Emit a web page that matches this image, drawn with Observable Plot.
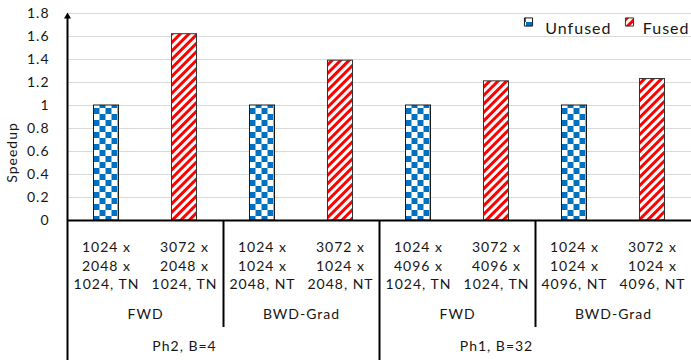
<!DOCTYPE html>
<html>
<head>
<meta charset="utf-8">
<script src="https://cdn.jsdelivr.net/npm/d3@7"></script>
<script src="https://cdn.jsdelivr.net/npm/@observablehq/plot@0.6"></script>
<style>
  html, body { margin: 0; padding: 0; background: #fff; }
  #chart svg { display: block; }
</style>
</head>
<body>
<div id="chart"></div>
<script>
// ---- data ----
const categories = [
  "1024 x\n2048 x\n1024, TN", "3072 x\n2048 x\n1024, TN",
  "1024 x\n1024 x\n2048, NT", "3072 x\n1024 x\n2048, NT",
  "1024 x\n4096 x\n1024, TN", "3072 x\n4096 x\n1024, TN",
  "1024 x\n1024 x\n4096, NT", "3072 x\n1024 x\n4096, NT"
];
const unfused = [1, null, 1, null, 1, null, 1, null];
const fused = [null, 1.62, null, 1.39, null, 1.21, null, 1.23];
const operations = ["FWD", "BWD-Grad", "FWD", "BWD-Grad"];
const phases = ["Ph2, B=4", "Ph1, B=32"];
const seriesNames = ["Unfused", "Fused"];
const yTicks = [0, 0.2, 0.4, 0.6, 0.8, 1, 1.2, 1.4, 1.6, 1.8];
const yTickLabels = ["0", "0.2", "0.4", "0.6", "0.8", "1", "1.2", "1.4", "1.6", "1.8"];
const yLabel = "Speedup";

// ---- layout ----
const W = 691, H = 360, ML = 67, MT = 13, MB = 140;
const bw = (W - ML) / categories.length;
const barW = 25;
const inset = (bw - barW) / 2;
const font = "Lato, 'Open Sans', sans-serif";
const ink = "#161616";

const rowsU = categories.map((c, i) => ({cat: c, v: unfused[i]})).filter(d => d.v != null);
const rowsF = categories.map((c, i) => ({cat: c, v: fused[i]})).filter(d => d.v != null);
const opGroups = operations.map((o, i) => ({label: o, first: categories[i * 2]}));
const phaseGroups = phases.map((p, i) => ({label: p, first: categories[i * 4]}));
const phaseFirsts = phaseGroups.map(d => d.first);
const opBounds = opGroups.filter((d, i) => i > 0 && !phaseFirsts.includes(d.first)).map(d => d.first);
const phaseBounds = phaseGroups.slice(1).map(d => d.first);

const chart = Plot.plot({
  width: W, height: H,
  marginLeft: ML, marginRight: 0, marginTop: MT, marginBottom: MB,
  style: {fontFamily: font, background: "#fff", overflow: "visible", letterSpacing: "1px"},
  x: {domain: categories, padding: 0, round: false, axis: null},
  y: {domain: [0, 1.8], axis: null},
  marks: [
    Plot.gridY(yTicks, {stroke: "#d9d9d9", strokeOpacity: 1, strokeWidth: 1}),
    Plot.axisY(yTicks, {
      tickSize: 0, tickPadding: 18, fontSize: 14, color: ink, label: null,
      tickFormat: d => yTickLabels[yTicks.indexOf(d)]
    }),
    Plot.barY(rowsU, {x: "cat", y: "v", fill: "url(#pat-checker)", stroke: "#1a1a1a", strokeWidth: 1, insetLeft: inset, insetRight: inset}),
    Plot.barY(rowsF, {x: "cat", y: "v", fill: "url(#pat-stripes)", stroke: "#333", strokeWidth: 1, insetLeft: inset, insetRight: inset}),
    Plot.ruleY([0], {stroke: "#000", strokeWidth: 2}),
    // y axis line with arrow
    Plot.ruleX([categories[0]], {x: d => d, dx: -bw / 2, stroke: "#000", strokeWidth: 2, insetTop: 3, insetBottom: -MB}),
    Plot.dot([categories[0]], {x: d => d, frameAnchor: "top", dx: -bw / 2, dy: 3, symbol: "triangle", r: 2.6, fill: "#000", stroke: "none"}),
    // group separators
    Plot.ruleX(opBounds, {x: d => d, dx: -bw / 2, stroke: "#000", strokeWidth: 2, insetTop: H - MT - MB, insetBottom: -107}),
    Plot.ruleX(phaseBounds, {x: d => d, dx: -bw / 2, stroke: "#000", strokeWidth: 2, insetTop: H - MT - MB, insetBottom: -MB}),
    // category labels
    Plot.text(categories, {x: d => d, text: d => d, frameAnchor: "bottom", lineAnchor: "top", dy: 19, lineHeight: 1.3, fontSize: 14, fill: ink}),
    Plot.text(opGroups, {x: "first", text: "label", dx: bw / 2, frameAnchor: "bottom", dy: 98, fontSize: 14, fill: ink}),
    Plot.text(phaseGroups, {x: "first", text: "label", dx: bw, frameAnchor: "bottom", dy: 130, fontSize: 14, fill: ink}),
    // y label
    Plot.text([yLabel], {frameAnchor: "left", textAnchor: "middle", lineAnchor: "middle", rotate: -90, dx: -55, dy: 35.5, fontSize: 14, fill: ink}),
    // legend
    Plot.dot([seriesNames[0]], {frameAnchor: "top-right", dx: -163, dy: 8.5, symbol: "square", r: 4.6, fill: "url(#pat-checker)", stroke: "#1a1a1a", strokeWidth: 1}),
    Plot.text([seriesNames[0]], {frameAnchor: "top-right", textAnchor: "end", dx: -80, dy: 9, fontSize: 16, fill: ink}),
    Plot.dot([seriesNames[1]], {frameAnchor: "top-right", dx: -62, dy: 8.5, symbol: "square", r: 4.6, fill: "url(#pat-stripes)", stroke: "#333", strokeWidth: 1}),
    Plot.text([seriesNames[1]], {frameAnchor: "top-right", textAnchor: "end", dx: -2, dy: 9, fontSize: 16, fill: ink})
  ]
});

// patterns
const defs = d3.select(chart).insert("defs", ":first-child");
const ck = defs.append("pattern").attr("id", "pat-checker").attr("patternUnits", "userSpaceOnUse")
  .attr("width", 12).attr("height", 12).attr("x", ML + inset).attr("y", 0);
ck.append("rect").attr("width", 12).attr("height", 12).attr("fill", "#fff");
ck.append("rect").attr("width", 6).attr("height", 6).attr("fill", "#0070C0");
ck.append("rect").attr("x", 6).attr("y", 6).attr("width", 6).attr("height", 6).attr("fill", "#0070C0");
const st = defs.append("pattern").attr("id", "pat-stripes").attr("patternUnits", "userSpaceOnUse")
  .attr("width", 6).attr("height", 6).attr("patternTransform", "rotate(45)");
st.append("rect").attr("width", 6).attr("height", 6).attr("fill", "#fff");
st.append("rect").attr("width", 3).attr("height", 6).attr("fill", "#ff0000");

document.getElementById("chart").append(chart);
</script>
</body>
</html>
